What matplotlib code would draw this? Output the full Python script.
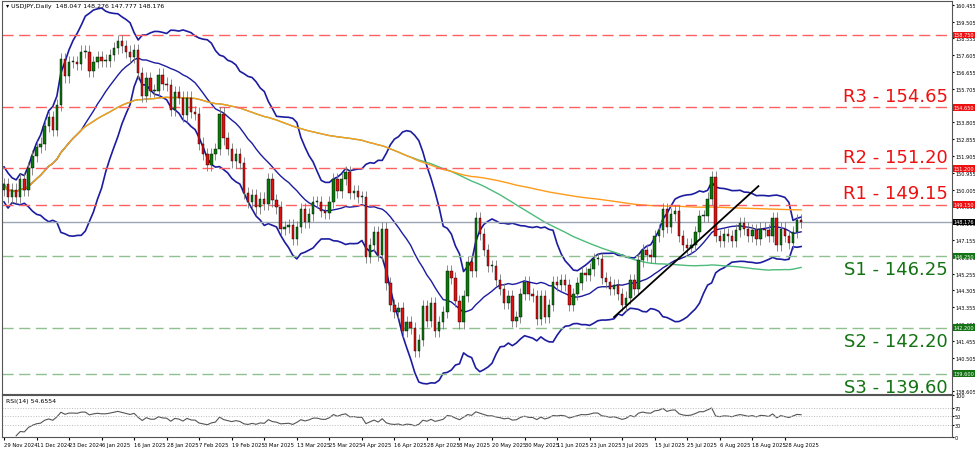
import numpy as np
import pandas as pd
import matplotlib.pyplot as plt

closes = [150.3,
    149.6, 150.0, 149.6, 150.6, 150.0,
    151.2, 151.9, 152.4, 152.6, 153.6,
    154.1, 153.4, 154.8, 157.4, 156.4,
    157.2, 157.2, 157.1, 157.8, 157.8,
    156.7, 157.2, 157.5, 157.3, 157.3,
    157.6, 158.0, 158.4, 158.1, 157.8,
    157.5, 157.9, 156.6, 155.3, 156.3,
    155.6, 155.6, 156.5, 156.0, 155.9,
    154.5, 155.5, 155.2, 154.2, 155.2,
    154.4, 154.3, 152.6, 152.0, 151.4,
    152.0, 152.3, 154.3, 152.9, 152.3,
    151.6, 152.0, 151.5, 149.8, 149.3,
    149.7, 149.0, 149.5, 149.2, 150.6,
    149.4, 149.0, 147.8, 147.9, 148.0,
    147.2, 147.9, 148.9, 148.2, 148.6,
    149.3, 149.3, 148.8, 148.7, 149.3,
    150.6, 149.9, 150.6, 151.0, 149.8,
    149.9, 149.6, 149.6, 146.2, 146.9,
    147.6, 146.3, 147.8, 144.7, 143.5,
    143.1, 143.3, 142.0, 142.5, 142.2,
    140.9, 141.5, 143.4, 142.6, 143.6,
    142.0, 142.5, 143.1, 145.4, 145.0,
    143.7, 142.5, 144.0, 145.9, 145.4,
    148.4, 147.5, 146.6, 145.7, 145.7,
    144.9, 144.4, 143.6, 144.0, 142.6,
    142.8, 144.1, 144.8, 144.1, 144.0,
    142.7, 144.0, 142.8, 143.5, 144.8,
    144.6, 144.9, 144.6, 143.5, 144.1,
    144.7, 145.3, 145.2, 145.5, 146.1,
    146.1, 145.0, 144.8, 144.4, 144.6,
    144.1, 143.5, 143.9, 144.9, 144.4,
    146.0, 146.6, 146.3, 146.2, 147.4,
    147.7, 148.9, 147.9, 148.6, 148.8,
    147.4, 146.9, 146.7, 146.9, 147.6,
    148.5, 148.5, 149.5, 150.7, 147.4,
    147.1, 147.5, 147.4, 147.1, 147.7,
    148.1, 147.8, 147.4, 147.7, 147.2,
    147.8, 147.7, 147.4, 148.4, 146.9,
    147.8, 147.4, 147.0, 147.6, 148.3, 148.176]

date_labels = ["29 Nov 2024", "11 Dec 2024", "23 Dec 2024", "6 Jan 2025", "16 Jan 2025",
               "28 Jan 2025", "7 Feb 2025", "19 Feb 2025", "3 Mar 2025", "13 Mar 2025",
               "25 Mar 2025", "4 Apr 2025", "16 Apr 2025", "28 Apr 2025", "8 May 2025",
               "20 May 2025", "30 May 2025", "11 Jun 2025", "23 Jun 2025", "3 Jul 2025",
               "15 Jul 2025", "25 Jul 2025", "6 Aug 2025", "18 Aug 2025", "28 Aug 2025"]

resistances = [("R3", 154.65), ("R2", 151.20), ("R1", 149.15)]
supports = [("S1", 146.25), ("S2", 142.20), ("S3", 139.60)]
extra_level = 158.75
last_price = 148.176
trend_x = [150, 185.5]
trend_y = [142.8, 150.2]

c = pd.Series(closes)
o = c.shift(1).fillna(c.iloc[0] - 0.3)
n = len(c)
idx = np.arange(n)

fig = plt.figure(figsize=(9.75, 4.52), dpi=100)
ax = fig.add_axes([0.002, 0.126, 0.974, 0.869])
ax2 = fig.add_axes([0.002, 0.03, 0.974, 0.093])
for a in (ax, ax2):
    a.yaxis.tick_right()
    a.tick_params(axis="y", labelsize=3.6, length=1.5, pad=1)
    for s in a.spines.values():
        s.set_color("#555555")

# bands and averages
mid = c.rolling(20, min_periods=1).mean()
sd = c.rolling(20, min_periods=2).std().bfill()
ax.plot(idx, mid + 2 * sd, color="#1c1ca0", lw=1.2)
ax.plot(idx, mid - 2 * sd, color="#1c1ca0", lw=1.2)
ax.plot(idx, mid, color="#1c1ca0", lw=1.0)
ax.plot(idx, c.rolling(100, min_periods=1).mean(), color="#4cbb7a", lw=1.0)
ax.plot(idx, c.rolling(200, min_periods=1).mean(), color="#ff9a1a", lw=1.0)

# candles
for i in idx:
    op, cl = o[i], c[i]
    hi, lo = max(op, cl) + 0.35, min(op, cl) - 0.35
    col = "#0a7a0a" if cl >= op else "#e01010"
    ax.vlines(i, lo, hi, color="#777777", lw=0.6, zorder=3)
    ax.bar(i, max(abs(cl - op), 0.05), bottom=min(op, cl), width=0.6,
           color=col, edgecolor="black", lw=0.3, zorder=4)

ax.plot(trend_x, trend_y, color="black", lw=1.3, zorder=5)

ax.axhline(extra_level, color="#ff6060", ls=(0, (8, 4)), lw=1)
for name, v in resistances:
    ax.axhline(v, color="#ff6060", ls=(0, (8, 4)), lw=1)
    ax.text(232, v + 0.15, f"{name} - {v:.2f}", color="#ee1111", fontsize=13,
            ha="right", va="bottom")
for name, v in supports:
    ax.axhline(v, color="#8fc08f", ls=(0, (8, 4)), lw=1)
    ax.text(232, v - 0.25, f"{name} - {v:.2f}", color="#137313", fontsize=13,
            ha="right", va="top")
ax.axhline(last_price, color="#9aa6b4", lw=1)

for v, bg in [(extra_level, "#ee1111")] + [(v, "#ee1111") for _, v in resistances] + \
        [(v, "#137313") for _, v in supports] + [(last_price, "black")]:
    ax.text(1.002, v, f"{v:.3f}", transform=ax.get_yaxis_transform(), fontsize=3.6,
            color="white", va="center", ha="left", zorder=10,
            bbox=dict(boxstyle="square,pad=0.15", fc=bg, ec="none"))

ax.set_xlim(-0.5, 233)
ax.set_ylim(138.45, 160.65)
ticks = np.arange(138.605, 160.6, 0.95)
ax.set_yticks(ticks)
ax.set_yticklabels([f"{t:.3f}" for t in ticks])
ax.set_xticks([])
ax.text(0.004, 0.995, "\u25be USDJPY,Daily  148.047 148.276 147.777 148.176",
        transform=ax.transAxes, fontsize=4.5, va="top")

# RSI
d = c.diff()
up = d.clip(lower=0).ewm(alpha=1 / 14, adjust=False).mean()
dn = (-d.clip(upper=0)).ewm(alpha=1 / 14, adjust=False).mean()
rsi = 100 - 100 / (1 + up / dn.replace(0, np.nan))
rsi = rsi.fillna(50)
ax2.plot(idx[3:], rsi[3:], color="#555555", lw=0.8)
for lv in (70, 50, 30):
    ax2.axhline(lv, color="#bbbbbb", ls=":", lw=0.7)
ax2.set_xlim(-0.5, 233)
ax2.set_ylim(0, 100)
ax2.set_yticks([0, 30, 50, 70, 100])
ax2.set_xticks(np.arange(0, 8 * len(date_labels), 8))
ax2.set_xticklabels(date_labels, fontsize=3.8, ha="left")
ax2.tick_params(axis="x", length=2, pad=1)
ax2.text(0.004, 0.93, "RSI(14) 54.6554", transform=ax2.transAxes, fontsize=4.5, va="top")

fig.savefig("out.png")
